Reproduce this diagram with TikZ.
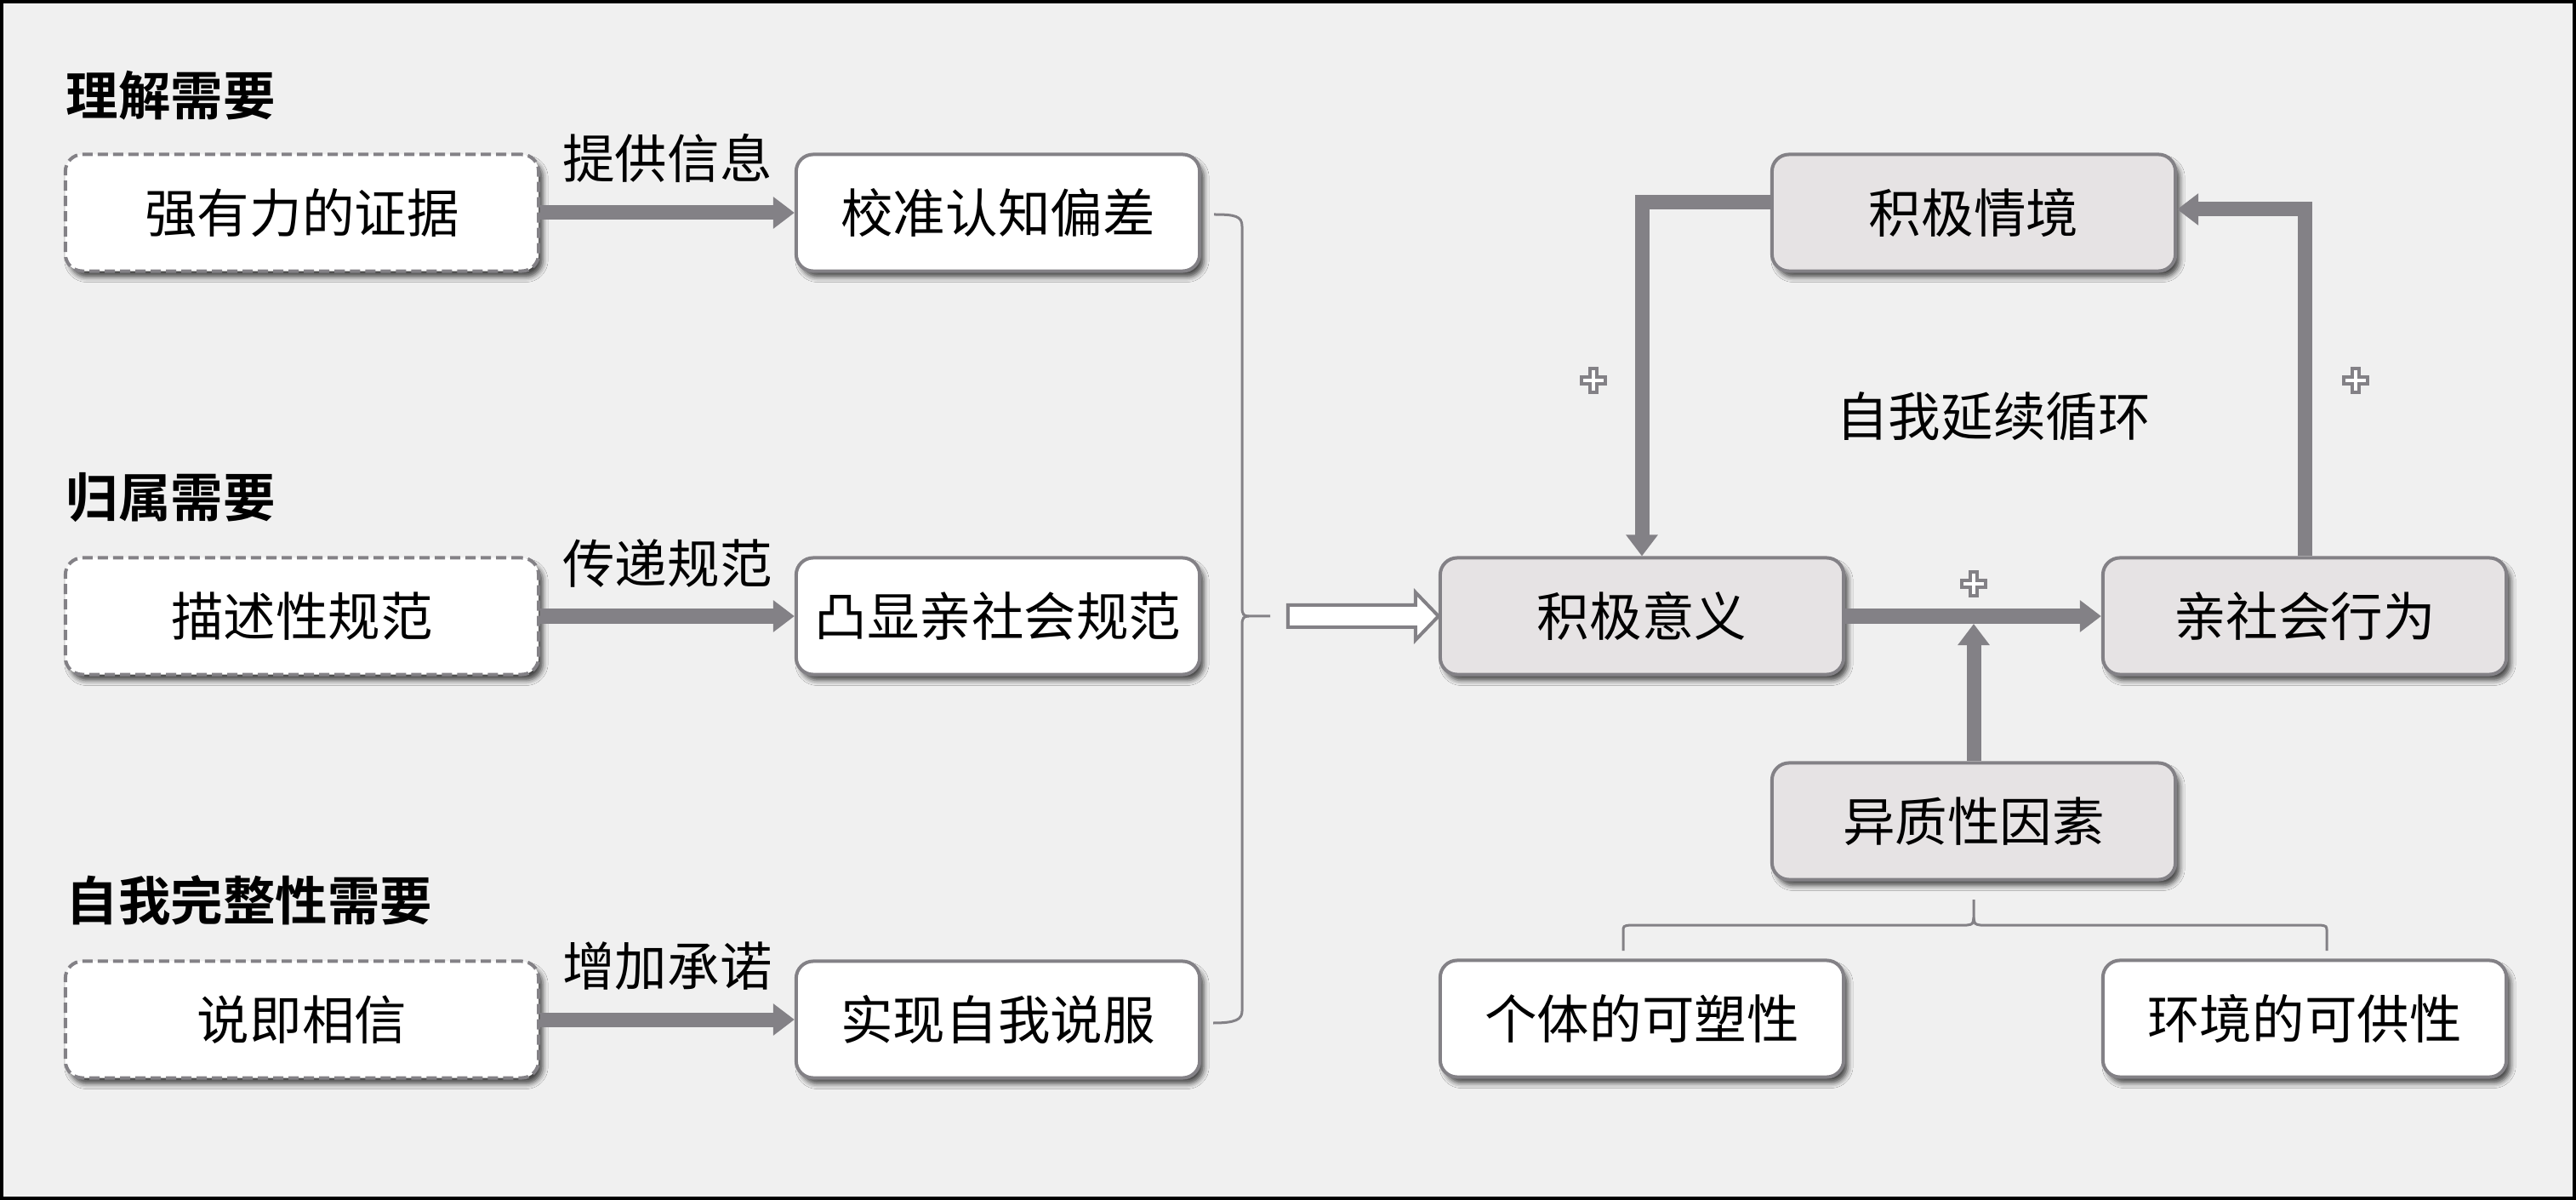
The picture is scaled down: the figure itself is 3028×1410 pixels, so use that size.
\documentclass[tikz,border=0pt]{standalone}
\usepackage{fontspec}
\newfontfamily\cjk{Noto Sans CJK SC}[BoldFont={Noto Sans CJK SC Bold}]
\usetikzlibrary{arrows.meta,shadows.blur,calc}
\newcommand\myfs{\fontsize{17.5pt}{21pt}\selectfont}
\definecolor{bgc}{RGB}{240,240,240}
\definecolor{linec}{RGB}{131,129,134}
\definecolor{nodefill}{RGB}{230,227,228}
\begin{document}
\begin{tikzpicture}[x=0.01cm,y=-0.01cm,
  every node/.style={font=\cjk\myfs, text=black},
  base/.style={rounded corners=0.2cm, line width=0.04cm, draw=linec, minimum height=1.37cm, inner sep=0pt,
    blur shadow={shadow xshift=0.05cm, shadow yshift=-0.07cm, shadow blur radius=0.06cm, shadow opacity=70}},
  dbox/.style={base, fill=white, dash pattern=on 0.12cm off 0.06cm, minimum width=5.56cm},
  wbox/.style={base, fill=white, minimum width=4.74cm},
  gbox/.style={base, fill=nodefill, minimum width=4.74cm},
  title/.style={anchor=west, font=\cjk\bfseries\myfs, inner sep=0pt},
  lab/.style={inner sep=0pt},
  conn/.style={draw=linec, line width=0.17cm, -{Triangle[length=0.25cm,width=0.36cm]}},
  thinline/.style={draw=linec, line width=0.03cm},
  hollow/.style={draw=linec, fill=white, line width=0.04cm, line join=miter},
  plusmark/.pic={\draw[draw=linec, fill=white, line width=0.04cm]
    (-4,-14) -- (4,-14) -- (4,-4) -- (14,-4) -- (14,4) -- (4,4) -- (4,14) -- (-4,14) -- (-4,4) -- (-14,4) -- (-14,-4) -- (-4,-4) -- cycle;}
]
\useasboundingbox (0,0) rectangle (3028,1410);
\fill[bgc] (0,0) rectangle (3028,1410);
\draw[black, line width=0.04cm] (2,2) rectangle (3026,1408);

% titles
\node[title] (t1) at (77,112) {理解需要};
\node[title] (t2) at (77,585) {归属需要};
\node[title] (t3) at (77,1058) {自我完整性需要};

% left boxes
\node[dbox] (A1) at (355,250) {强有力的证据};
\node[dbox] (A2) at (355,724) {描述性规范};
\node[dbox] (A3) at (355,1198) {说即相信};
\node[wbox] (B1) at (1173,250) {校准认知偏差};
\node[wbox] (B2) at (1173,724) {凸显亲社会规范};
\node[wbox] (B3) at (1173,1198) {实现自我说服};

\draw[conn] (A1) -- (B1) node[lab, midway, yshift=0.64cm] (l1) {提供信息};
\draw[conn] (A2) -- (B2) node[lab, midway, yshift=0.62cm] (l2) {传递规范};
\draw[conn] (A3) -- (B3) node[lab, midway, yshift=0.63cm] (l3) {增加承诺};

% right nodes
\node[gbox] (S) at (2320,250) {积极情境};
\node[gbox] (M) at (1930,724) {积极意义};
\node[gbox] (P) at (2709,724) {亲社会行为};
\node[gbox] (H) at (2320,965) {异质性因素};
\node[wbox] (I) at (1930,1197) {个体的可塑性};
\node[wbox] (E) at (2709,1197) {环境的可供性};
\node[lab] (cyc) at (2343,489) {自我延续循环};

% brace on left
\draw[thinline] (1427,252) .. controls (1452,252) and (1460,254) .. (1460,266) -- (1460,714)
  .. controls (1460,722) and (1462,724) .. (1468,724) -- (1493,724);
\draw[thinline] (1468,724) .. controls (1462,724) and (1460,726) .. (1460,734) -- (1460,1188)
  .. controls (1460,1198) and (1452,1202) .. (1426,1202);

% hollow arrow
\draw[hollow] (M.west) -- ++(-27,-28) -- ++(0,15) -- ++(-150,0) -- ++(0,26) -- ++(150,0) -- ++(0,15) -- cycle;

% loop connectors
\draw[conn] ([yshift=0.12cm]S.west) -| (M.north);
\draw[conn] (P.north) |- ([yshift=0.04cm]S.east);
\draw[conn] (M.east) -- (P.west);
\draw[conn] (H.north) -- ($(H.north |- M.east)+(0,9)$);

% plus marks
\pic at (1873,447) {plusmark};
\pic at (2769,447) {plusmark};
\pic at (2320,686) {plusmark};

% bottom brace
\draw[thinline] (1908,1117) -- (1908,1095) .. controls (1908,1088) .. (1916,1087) -- (2312,1087)
  .. controls (2319,1086) .. (2320,1078) -- (2320,1057);
\draw[thinline] (2735,1117) -- (2735,1095) .. controls (2735,1088) .. (2727,1087) -- (2328,1087)
  .. controls (2321,1086) .. (2320,1078);
\end{tikzpicture}
\end{document}
